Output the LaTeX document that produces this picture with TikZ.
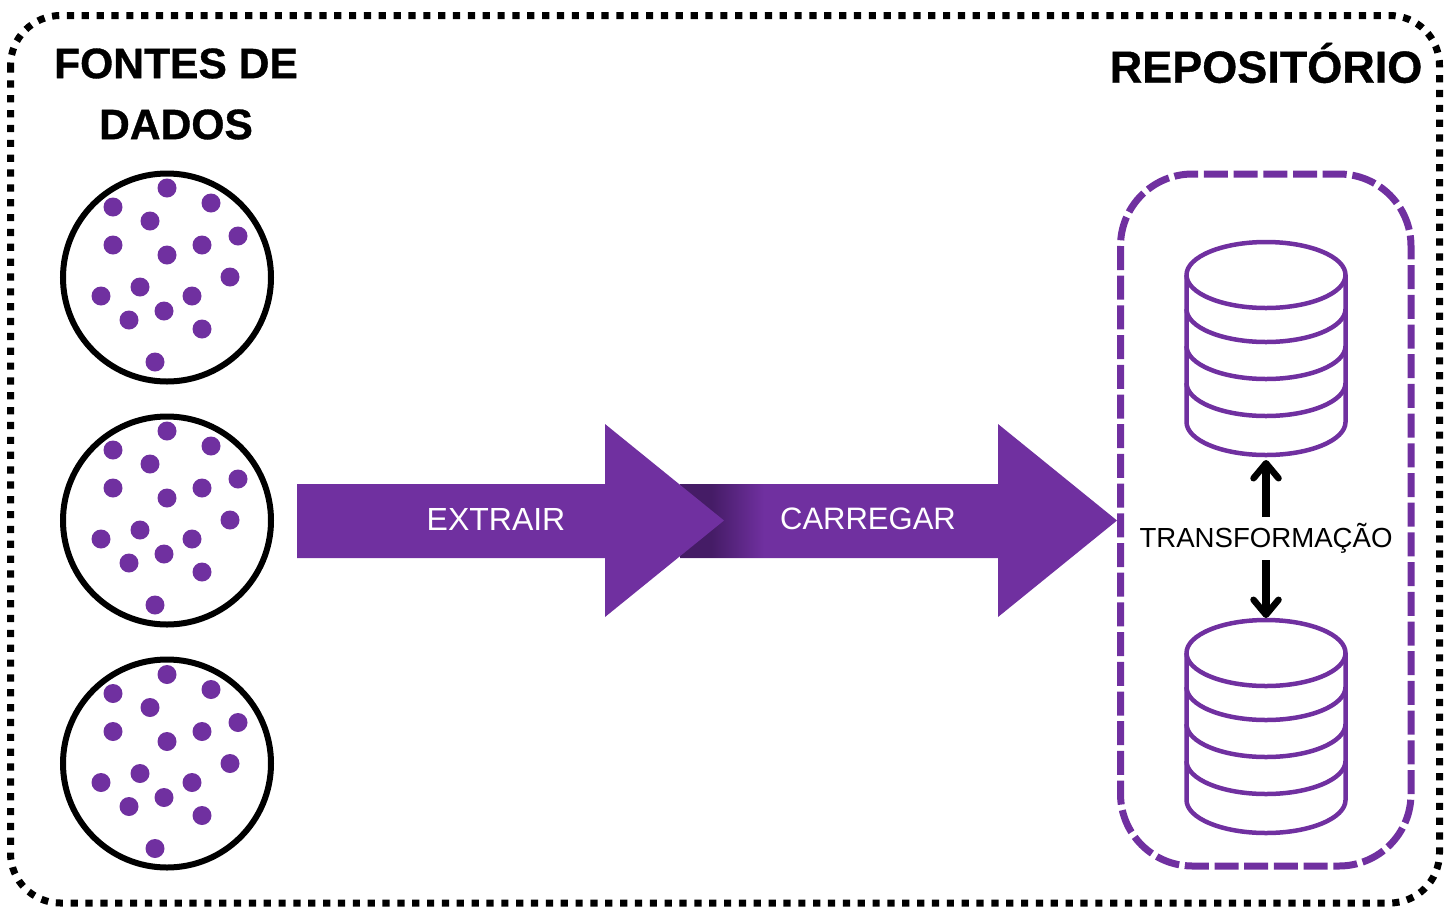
\documentclass[tikz,border=0pt]{standalone}
\usepackage{fontspec}
\setmainfont{Liberation Sans}
\newfontfamily\fonttit[UprightFont=* Bold,FakeBold=0.8]{Liberation Sans}
\usetikzlibrary{arrows.meta}
\definecolor{roxo}{HTML}{7030A0}
\definecolor{roxoesc}{HTML}{451C66}
\pgfdeclarehorizontalshading{sombra}{100bp}{color(0bp)=(roxoesc); color(38bp)=(roxoesc); color(60bp)=(roxo); color(100bp)=(roxo)}
\tikzset{
  x=1pt,y=-1pt,
  outerbox/.style={draw=black,line width=7pt,dash pattern=on 7.2pt off 7.65pt,rounded corners=50pt},
  innerbox/.style={draw=roxo,line width=7pt,dash pattern=on 24pt off 5.7pt,rounded corners=72pt},
  fonte/.style={circle,draw=black,line width=6pt,minimum size=208pt,inner sep=0pt},
  ponto/.style={fill=roxo,draw=none},
  seta/.style={fill=roxo,draw=none},
  titulo/.style={inner sep=0pt,text=black,align=center},
  rotulo/.style={inner sep=0pt},
  cil/.style={draw=roxo,line width=4.5pt,line join=round},
  fluxo/.style={draw=black,line width=8pt,-{Straight Barb[round,length=15pt,width=25pt,line width=6.5pt]}},
}
\newcommand{\fontepontos}[1]{%
  \begin{scope}[shift={(#1)}]
  \foreach \a/\b in {0/-89,44/-74,-54/-70,-17/-56,71/-41,-54/-32,35/-32,0/-22,63/0,-27/10,-66/19,25/19,-3/34,-38/43,35/52,-12/85}
    {\fill[ponto] (\a,\b) circle[radius=9.5];}
  \end{scope}}
\newcommand{\banco}[1]{%
  \begin{scope}[shift={(#1)}]
  \draw[cil] (0,0) ellipse[x radius=79.5,y radius=33];
  \draw[cil] (-79.5,0) -- (-79.5,147) arc[start angle=180,end angle=360,x radius=79.5,y radius=-33] -- (79.5,0);
  \foreach \d in {34,71,108}
    {\draw[cil] (-79.5,\d) arc[start angle=180,end angle=360,x radius=79.5,y radius=-33];}
  \end{scope}}
\begin{document}
\begin{tikzpicture}
\useasboundingbox (0,0) rectangle (1451,906);
\draw[outerbox] (10.5,15.5) rectangle (1439.5,903);
\node[titulo,font=\fontsize{42.6}{61}\selectfont\fonttit] (tf) at (176,94) {FONTES DE\\DADOS};
\node[titulo,font=\fontsize{45}{50}\selectfont\fonttit] (tr) at (1266,63) {REPOSITÓRIO};
\node[fonte] (f1) at (167,277.5) {};
\node[fonte] (f2) at (167,520.5) {};
\node[fonte] (f3) at (167,763.5) {};
\fontepontos{167,277}
\fontepontos{167,520}
\fontepontos{167,763.5}
% arrows
\fill[seta] (680,484) -- (998,484) -- (998,424) -- (1117,520.5) -- (998,617) -- (998,558) -- (680,558) -- cycle;
\shade[shading=sombra] (680,484.4) rectangle (800,557.6);
\fill[seta] (297,484) -- (605,484) -- (605,424) -- (724,520.5) -- (605,617) -- (605,558) -- (297,558) -- cycle;
\node[rotulo,text=white,font=\fontsize{32}{38}\selectfont] (ex) at (496,519) {EXTRAIR};
\node[rotulo,text=white,font=\fontsize{31}{38}\selectfont] (ca) at (868,519) {CARREGAR};
% repository
\draw[innerbox] (1120.5,174) rectangle (1411,866);
\banco{1266,275}
\banco{1266,653}
\coordinate (b1) at (1266,460);
\coordinate (b2) at (1266,618);
\node[rotulo,text=black,font=\fontsize{27.6}{34}\selectfont] (tt) at (1266,538) {TRANSFORMAÇÃO};
\draw[fluxo] (1266,517) -- (b1);
\draw[fluxo] (1266,560) -- (b2);
\end{tikzpicture}
\end{document}
